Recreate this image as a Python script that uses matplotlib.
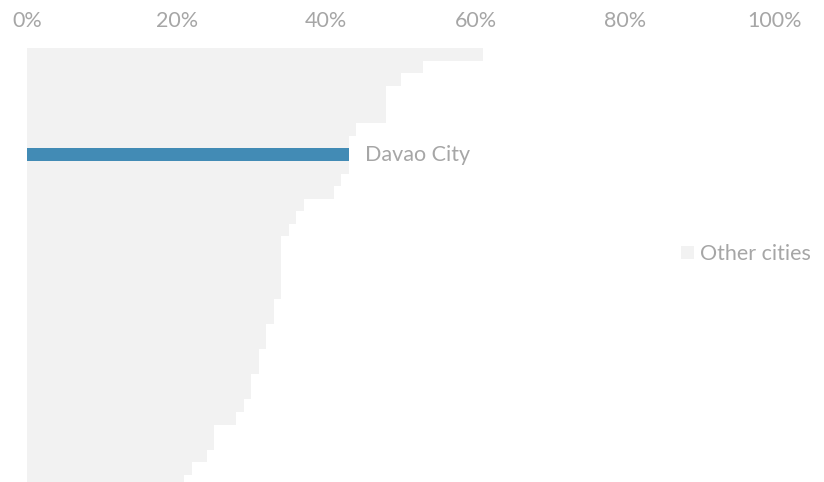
import matplotlib.pyplot as plt
import numpy as np

# share of each city, sorted high to low; Davao City is highlighted
shares = [61, 53, 50, 48, 48, 48, 44, 43, 43, 43, 42, 41, 37, 36, 35,
          34, 34, 34, 34, 34, 33, 33, 32, 32, 31, 31, 30, 30, 29, 28,
          25, 25, 24, 22, 21]
davao_row = 8
davao_share = 43
x_ticks = [0, 20, 40, 60, 80, 100]
tick_labels = ['0%', '20%', '40%', '60%', '80%', '100%']

grey_txt = '#a6a6a6'
plt.rcParams['font.family'] = ['Lato', 'DejaVu Sans']

fig = plt.figure(figsize=(8.24, 4.82), dpi=100)
W, H = 824, 482
top_px, left_px, right_px = 48, 27, 775
row_px = 12.55
n = len(shares)
bottom_px = top_px + n * row_px
ax = fig.add_axes([left_px / W, 1 - bottom_px / H,
                   (right_px - left_px) / W, (bottom_px - top_px) / H])

rows = np.arange(n)
ax.barh(rows, shares, height=1.0, color='#f2f2f2', label='Other cities')
ax.barh(davao_row, davao_share, height=1.0, color='#428bb5')
ax.text(davao_share + 2.2, davao_row, 'Davao City', va='center', ha='left',
        fontsize=15.5, color=grey_txt)

ax.set_xlim(0, 100)
ax.set_ylim(n - 0.5, -0.5)
ax.xaxis.tick_top()
ax.set_xticks(x_ticks)
ax.set_xticklabels(tick_labels)
ax.tick_params(axis='x', length=0, pad=12, labelsize=15.5, labelcolor=grey_txt)
ax.set_yticks([])
for s in ax.spines.values():
    s.set_visible(False)

leg = fig.legend(loc='center left', bbox_to_anchor=(662 / W, 1 - 254 / H),
                 frameon=False, fontsize=15.5, handlelength=0.6, handleheight=0.6,
                 handletextpad=0.25, labelcolor=grey_txt)

fig.savefig('out.png', dpi=100)
